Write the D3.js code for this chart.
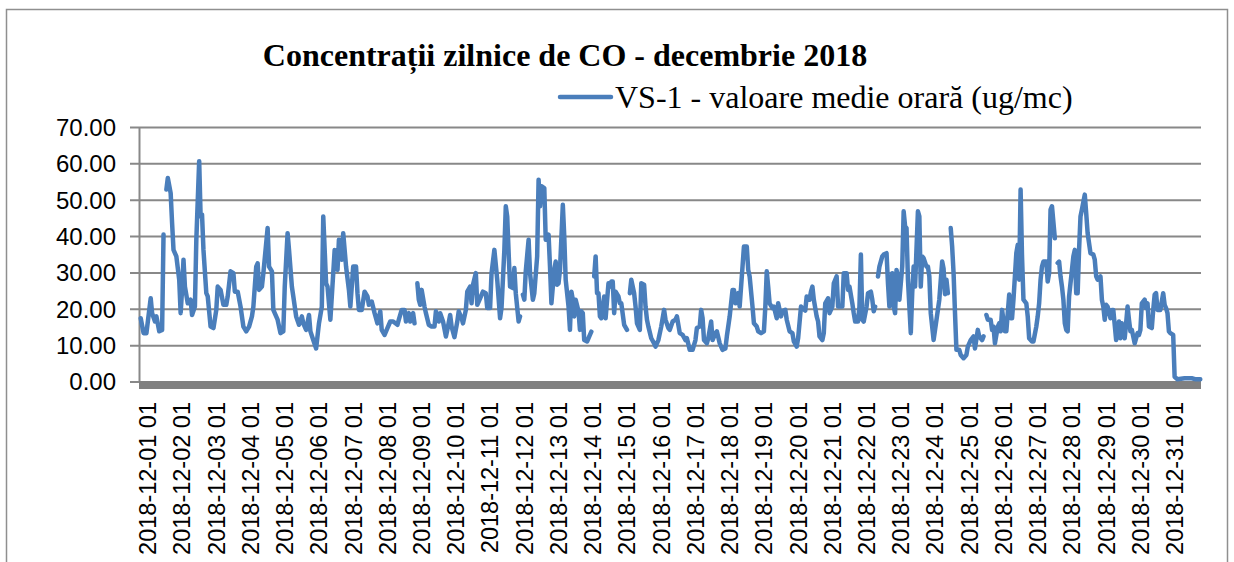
<!DOCTYPE html>
<html>
<head>
<meta charset="utf-8">
<script src="https://cdn.jsdelivr.net/npm/d3@7/dist/d3.min.js"></script>
<style>
  body { margin: 0; background: #fff; }
  .ylab { font-family: "Liberation Sans", Arial, sans-serif; font-size: 24px; fill: #000; }
  .xlab { font-family: "Liberation Sans", Arial, sans-serif; font-size: 23.5px; fill: #000; }
</style>
</head>
<body>
<svg id="co_chart" width="1234" height="562"></svg>
<script>

// chart texts
var chartTitle = "Concentrații zilnice de CO - decembrie 2018";
var seriesName = "VS-1 - valoare medie orară (ug/mc)";

// y ticks
var yTicks = [0, 10, 20, 30, 40, 50, 60, 70];

// category labels, one every 24 hours
var dayLabels = ["2018-12-01 01", "2018-12-02 01", "2018-12-03 01", "2018-12-04 01", "2018-12-05 01",
  "2018-12-06 01", "2018-12-07 01", "2018-12-08 01", "2018-12-09 01", "2018-12-10 01",
  "2018-12-11 01", "2018-12-12 01", "2018-12-13 01", "2018-12-14 01", "2018-12-15 01",
  "2018-12-16 01", "2018-12-17 01", "2018-12-18 01", "2018-12-19 01", "2018-12-20 01",
  "2018-12-21 01", "2018-12-22 01", "2018-12-23 01", "2018-12-24 01", "2018-12-25 01",
  "2018-12-26 01", "2018-12-27 01", "2018-12-28 01", "2018-12-29 01", "2018-12-30 01",
  "2018-12-31 01"];

var nHours = 744;

// [hour index, value], null = missing hours
var vs1 = [
 [0,17.4],[2,13.3],[4,13.3],[7,22.9],[8,18.8],[10,16.5],[11,17.9],[13,13.8],[15,14.2],[16,40.4],[17,null],
 [18,52.8],[19,56],[21,51.8],[22,43.6],[23,36.2],[25,34.4],[27,28],[28,18.8],[29,25.2],[30,33.5],[31,26.1],
 [33,21.5],[35,22.5],[36,18.3],[38,20.6],[39,39],[41,60.6],[42,45.4],[43,45.9],[44,36.2],[46,24.3],[47,23.4],
 [49,15.1],[51,14.7],[53,19.7],[54,26.1],[56,25.2],[58,21.1],[60,21.1],[61,23.4],[63,30.3],[65,29.8],[66,24.7],
 [68,24.7],[70,20.6],[72,15.1],[74,13.8],[76,15.1],[78,17.9],[79,20.6],[81,31.6],[82,32.5],[83,25.2],[85,26.1],
 [86,29.8],[89,42.2],[90,31.6],[92,30.3],[93,19.7],[96,17],[98,13.3],[100,13.8],[101,26.1],[103,40.8],[104,36.2],
 [106,26.1],[107,23.4],[109,17.9],[111,15.6],[113,17.9],[114,16],[116,14.2],[118,18.3],[119,13.8],[121,11.4],
 [123,9.1],[125,16],[127,20.6],[128,45.4],[130,27],[131,26.1],[133,17],[134,23.4],[136,36.2],[137,35.3],[138,30.7],
 [139,39],[141,33.5],[142,40.8],[144,31.6],[146,25.2],[147,20.6],[149,31.6],[151,31.6],[152,24.3],[153,19.7],
 [155,19.7],[157,24.7],[159,23.4],[160,21.1],[162,22],[164,18.8],[166,16],[168,19.3],[169,14.2],[171,12.8],
 [173,14.7],[175,16.5],[177,16.5],[180,15.6],[181,17],[183,19.7],[185,19.7],[186,16.5],[188,18.8],[189,16.5],
 [191,18.8],[192,16],[193,null],
 [194,27],[195,22.5],[196,21.1],[197,25.2],[199,20.6],[200,18.8],[202,15.6],[204,15.1],[206,15.1],[207,19.3],
 [209,16.5],[210,18.8],[212,16.5],[214,12.4],[215,14.2],[217,18.3],[218,15.1],[220,12.2],[222,16.5],[223,19.3],
 [225,17.4],[226,16],[228,19.7],[229,24.7],[231,26.1],[232,21.5],[233,26.6],[235,29.8],[236,21.1],[238,22.9],
 [240,24.7],[242,24.3],[243,20.2],[245,20.2],[246,29.8],[248,36.2],[250,28],[252,17.4],[253,20.2],[255,36.2],
 [256,48.2],[257,45.4],[258,35.3],[259,26.1],[261,25.7],[262,31.2],[263,24.3],[265,16.5],[266,17.9],[267,null],
 [268,23.9],[269,22.5],[270,30.3],[272,39],[273,29.8],[275,22.5],[276,24.3],[278,34.4],[279,55.5],[280,48.2],
 [281,53.7],[283,53.2],[284,39],[286,40.4],[287,31.6],[288,21.5],[290,30.7],[291,33],[292,26.6],[293,27],
 [294,30.7],[296,48.6],[297,39.9],[298,28],[300,20.6],[301,14.2],[302,24.7],[303,22.5],[304,17.9],[305,22.5],
 [307,19.3],[308,14.2],[309,19.3],[310,18.8],[311,11.4],[313,11],[315,12.8],[316,13.7],[317,null],
 [318,28.9],[319,34.4],[320,24.3],[321,24.3],[322,17.9],[323,17.4],[325,23.4],[326,17.4],[328,27],[329,26.1],
 [330,27.5],[331,27.5],[332,18.8],[333,24.7],[335,23.4],[336,21.5],[337,21.5],[339,15.6],[341,14.2],[342,null],
 [343,24.3],[344,28],[346,24.3],[347,20.6],[348,16],[350,14.2],[351,27],[353,26.6],[354,20.6],[355,17],
 [356,15.1],[358,11.9],[360,10.5],[361,9.6],[363,11.4],[365,15.1],[367,19.7],[368,17],[370,14.7],[371,14.2],
 [373,16.5],[375,17],[376,17.9],[378,13.3],[380,12.8],[382,11.4],[383,11.9],[385,8.7],[387,8.7],[389,11.4],
 [390,14.7],[392,15.1],[393,19.7],[394,17.4],[395,11.4],[397,10.5],[398,11.9],[400,16.5],[401,11.4],[403,13.3],
 [404,13.8],[406,10.5],[408,8.7],[410,9.1],[411,12.4],[413,17.9],[415,25.2],[416,25.2],[417,21.5],[419,24.3],
 [420,20.6],[422,31.6],[423,37.1],[425,37.1],[426,30.7],[427,28.9],[429,20.6],[430,16],[432,15.1],[433,13.8],
 [435,13.3],[437,13.8],[438,20.6],[439,30.3],[440,26.1],[441,21.5],[443,20.2],[444,20.6],[446,17.4],[447,21.5],
 [449,17.9],[450,19.3],[452,19.7],[453,17],[455,13.8],[457,13.3],[458,11],[460,9.6],[461,11.9],[463,20.6],
 [464,20.2],[466,19.5],[467,23.4],[469,22.5],[470,24.7],[471,26.1],[472,22.5],[474,17.9],[475,16.5],[476,12.4],
 [478,11.4],[479,13.3],[480,21.5],[482,22.9],[483,18.8],[485,20.6],[486,27],[488,28.9],[489,20.6],[491,20.6],
 [492,20.6],[493,29.8],[495,29.8],[496,25.2],[497,26.1],[499,21.5],[500,18.8],[501,16.5],[503,16.5],[504,20.6],
 [505,34.9],[506,17],[507,16.5],[509,20.6],[510,24.3],[512,24.7],[513,22.5],[514,19.3],[515,20.6],[516,null],
 [517,28.9],[518,31.6],[520,34.4],[521,34.9],[523,35.3],[524,27],[525,20.6],[527,29.8],[528,20.6],[529,18.8],
 [530,30.7],[531,28.9],[532,22.5],[534,31.6],[535,46.8],[536,42.7],[537,42.2],[538,28],[540,13.3],[541,24.3],
 [542,31.6],[543,26.1],[545,46.8],[546,45.4],[547,26.1],[548,34.4],[549,33.9],[551,31.6],[552,31.6],[553,28.9],
 [554,18.8],[556,11.4],[557,14.2],[559,19.7],[560,22.5],[562,33],[563,31],[564,24],[565,28],[566,24.3],[567,null],
 [568,42.2],[569,37.1],[570,29.8],[571,18.8],[572,8.7],[574,8.7],[575,7.3],[577,6.4],[579,7.3],[580,9.6],
 [582,11.4],[584,12.4],[585,9.1],[587,14.2],[588,12.4],[590,11.4],[591,12.4],[592,null],
 [593,18.3],[594,17],[596,17],[597,14.2],[598,15.1],[599,10.5],[601,15.1],[602,16],[603,13.8],[604,19.7],
 [606,13.8],[607,13.8],[608,18.8],[609,23.9],[610,17.4],[611,17.4],[612,22.5],[614,35.3],[615,37.6],[616,28],
 [617,52.8],[618,34.4],[619,22.5],[621,21.5],[622,17.9],[623,11.9],[625,11],[626,11],[628,15.1],[629,17.9],
 [630,21.5],[631,28],[632,31.6],[633,33],[635,33],[636,27.5],[637,29.8],[638,47.3],[639,48.2],[641,39.4],[642,null],
 [643,32.6],[644,33],[645,28.9],[646,26.1],[647,22.5],[648,16],[649,14.2],[650,13.8],[651,23.4],[653,30.7],
 [654,34.4],[655,36.2],[656,24.3],[657,24.3],[658,36.2],[659,45.4],[660,47.3],[662,51.4],[663,46.3],[664,40.8],
 [666,35.3],[668,34.9],[669,33.5],[670,28.9],[671,28],[673,28.9],[674,22.5],[675,20.6],[676,17],[677,21.1],
 [678,20.6],[680,17.4],[681,19.7],[682,19.7],[684,11.4],[685,13.3],[686,16.5],[687,11.9],[688,16],[690,11.9],
 [691,16],[692,20.6],[693,17],[694,13.8],[695,14.2],[697,10.5],[699,13.3],[700,12.8],[701,14.2],[702,21.5],
 [704,22.5],[705,20.2],[706,21.5],[707,15.1],[709,14.7],[710,19.7],[711,23.9],[712,24.3],[713,19.7],[715,19.7],
 [717,24.3],[718,21.1],[719,20.2],[720,18.8],[721,13.8],[722,13.3],[724,12.8],[725,1.3],[727,0.6],[732,0.9],
 [737,0.9],[740,0.6],[743,0.6]
];

var svg = d3.select("#co_chart");

// outer chart border
svg.append("rect")
  .attr("x", 6.5).attr("y", 9.5)
  .attr("width", 1221).attr("height", 600)
  .attr("fill", "#fff")
  .attr("stroke", "#8f8f8f")
  .attr("stroke-width", 1.5);

// plot area
var p_left = 140, p_right = 1201, p_top = 127, p_bottom = 381.5;

var x = d3.scaleLinear().domain([-0.5, nHours - 0.5]).range([p_left, p_right]);
var y = d3.scaleLinear().domain([0, 70]).range([p_bottom, p_top]);

// gridlines + y labels
var yAxis = d3.axisLeft(y)
  .tickValues(yTicks)
  .tickSize(-(p_right - p_left) - 10)
  .tickPadding(22)
  .tickFormat(d3.format(".2f"));

var gy = svg.append("g")
  .attr("transform", "translate(" + (p_left - 10) + ",0)")
  .call(yAxis);
gy.select(".domain").remove();
gy.selectAll(".tick line").attr("stroke", "#888").attr("stroke-width", 2);
gy.selectAll(".tick text")
  .attr("class", "ylab")
  .attr("x", -14)
  .attr("dy", "0.35em");

// y axis line
svg.append("line")
  .attr("x1", p_left - 0.5).attr("x2", p_left - 0.5)
  .attr("y1", p_top).attr("y2", p_bottom)
  .attr("stroke", "#888").attr("stroke-width", 2);

// x axis floor
svg.append("rect")
  .attr("x", p_left - 1).attr("y", y(0) - 0.5)
  .attr("width", p_right - p_left + 1).attr("height", 8)
  .attr("fill", "#808080");

// x labels, one per day
svg.append("g").selectAll("text")
  .data(dayLabels)
  .enter().append("text")
  .attr("class", "xlab")
  .attr("text-anchor", "end")
  .attr("dominant-baseline", "central")
  .attr("transform", function(d, i) {
    return "translate(" + (x(i * 24) + 7.5) + ",402) rotate(-90)";
  })
  .text(function(d) { return d; });

// the line
var valueline = d3.line()
  .defined(function(d) { return d[1] !== null; })
  .x(function(d) { return x(d[0]); })
  .y(function(d) { return y(d[1]); });

svg.append("path")
  .datum(vs1)
  .attr("d", valueline)
  .attr("fill", "none")
  .attr("stroke", "#4A7EBB")
  .attr("stroke-width", 4.5)
  .attr("stroke-linejoin", "round")
  .attr("stroke-linecap", "round");

// title
svg.append("text")
  .attr("x", 565).attr("y", 66)
  .attr("text-anchor", "middle")
  .style("font-family", "'Liberation Serif', 'Times New Roman', serif")
  .style("font-weight", "bold")
  .style("font-size", "32px")
  .text(chartTitle);

// legend
svg.append("line")
  .attr("x1", 560).attr("x2", 611)
  .attr("y1", 97).attr("y2", 97)
  .attr("stroke", "#4A7EBB").attr("stroke-width", 4.5)
  .attr("stroke-linecap", "round");

svg.append("text")
  .attr("x", 615).attr("y", 108)
  .style("font-family", "'Liberation Serif', 'Times New Roman', serif")
  .style("font-size", "32px")
  .text(seriesName);

</script>
</body>
</html>
